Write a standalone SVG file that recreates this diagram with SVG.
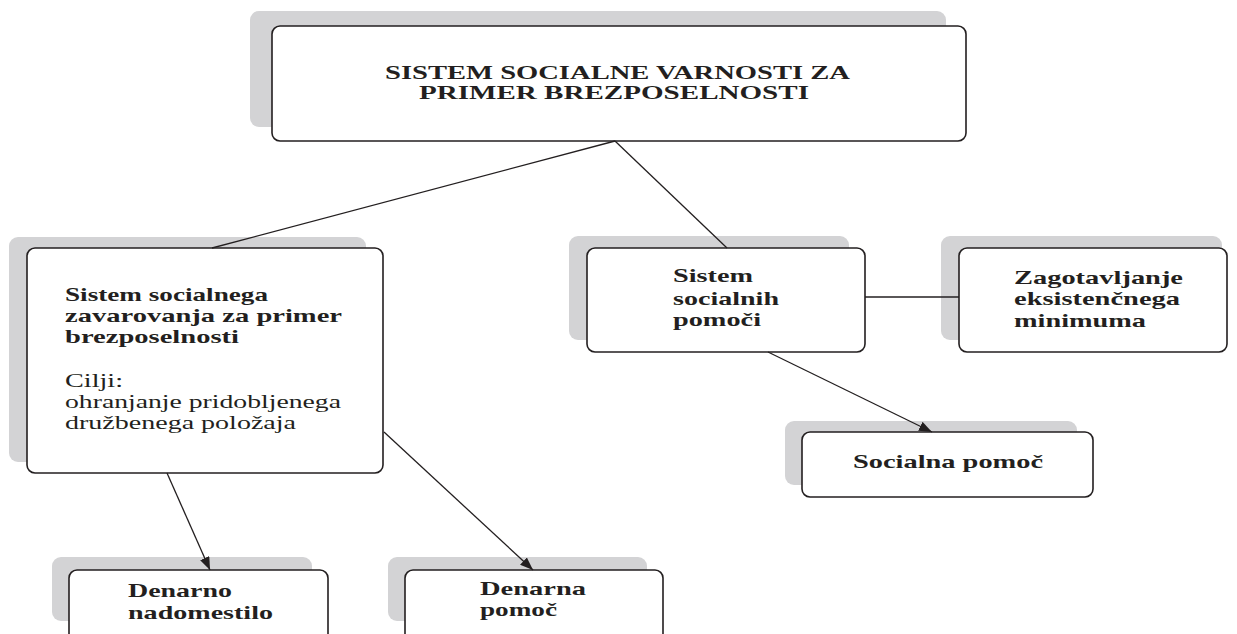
<svg xmlns="http://www.w3.org/2000/svg" width="1237" height="634" viewBox="0 0 1237 634">
<style>
.sh{fill:#d3d3d5;stroke:none}
.bx{fill:#fff;stroke:#231f20;stroke-width:1.6}
.b{font-family:"Liberation Serif","Times New Roman",serif;font-weight:bold;font-size:19px;fill:#231f20}
.r{font-family:"Liberation Serif","Times New Roman",serif;font-size:19px;fill:#231f20}
.ln{stroke:#231f20;stroke-width:1.3;fill:none}
</style>
<defs>
<marker id="ar" viewBox="0 0 13 10" refX="13" refY="5" markerWidth="13" markerHeight="10" markerUnits="userSpaceOnUse" orient="auto"><path d="M0,0 L13,5 L0,10 z" fill="#231f20"/></marker>
</defs>
<rect width="1237" height="634" fill="#fff"/>
<g id="n-top">
<rect class="sh" x="250" y="11" width="696" height="116" rx="9"/>
<rect class="bx" x="272" y="26" width="694" height="115" rx="8"/>
<text class="b" x="385" y="79" textLength="465" lengthAdjust="spacingAndGlyphs">SISTEM SOCIALNE VARNOSTI ZA</text>
<text class="b" x="419" y="99" textLength="390" lengthAdjust="spacingAndGlyphs">PRIMER BREZPOSELNOSTI</text>
</g>
<g id="n-zav">
<rect class="sh" x="9" y="237" width="357" height="225" rx="9"/>
<rect class="bx" x="27" y="248" width="356" height="225" rx="8"/>
<text class="b" x="65" y="301" textLength="203" lengthAdjust="spacingAndGlyphs">Sistem socialnega</text>
<text class="b" x="65" y="322" textLength="277" lengthAdjust="spacingAndGlyphs">zavarovanja za primer</text>
<text class="b" x="65" y="343" textLength="174" lengthAdjust="spacingAndGlyphs">brezposelnosti</text>
<text class="r" x="65" y="387" textLength="58" lengthAdjust="spacingAndGlyphs">Cilji:</text>
<text class="r" x="65" y="408" textLength="276" lengthAdjust="spacingAndGlyphs">ohranjanje pridobljenega</text>
<text class="r" x="65" y="429" textLength="231" lengthAdjust="spacingAndGlyphs">družbenega položaja</text>
</g>
<g id="n-pom">
<rect class="sh" x="569" y="236" width="280" height="104" rx="9"/>
<rect class="bx" x="587" y="248" width="278" height="104" rx="8"/>
<text class="b" x="673" y="282" textLength="80" lengthAdjust="spacingAndGlyphs">Sistem</text>
<text class="b" x="673" y="305" textLength="106" lengthAdjust="spacingAndGlyphs">socialnih</text>
<text class="b" x="673" y="326" textLength="88" lengthAdjust="spacingAndGlyphs">pomoči</text>
</g>
<g id="n-zag">
<rect class="sh" x="941" y="236" width="281" height="104" rx="9"/>
<rect class="bx" x="959" y="248" width="268" height="104" rx="8"/>
<text class="b" x="1014" y="284" textLength="169" lengthAdjust="spacingAndGlyphs">Zagotavljanje</text>
<text class="b" x="1014" y="305" textLength="166" lengthAdjust="spacingAndGlyphs">eksistenčnega</text>
<text class="b" x="1014" y="327" textLength="132" lengthAdjust="spacingAndGlyphs">minimuma</text>
</g>
<g id="n-soc">
<rect class="sh" x="785" y="421" width="292" height="64" rx="9"/>
<rect class="bx" x="802" y="432" width="291" height="65" rx="8"/>
<text class="b" x="853" y="468" textLength="190" lengthAdjust="spacingAndGlyphs">Socialna pomoč</text>
</g>
<g id="n-nad">
<rect class="sh" x="52" y="557" width="260" height="64" rx="9"/>
<rect class="bx" x="69" y="570" width="259" height="72" rx="8"/>
<text class="b" x="128" y="597" textLength="104" lengthAdjust="spacingAndGlyphs">Denarno</text>
<text class="b" x="128" y="619" textLength="145" lengthAdjust="spacingAndGlyphs">nadomestilo</text>
</g>
<g id="n-den">
<rect class="sh" x="388" y="557" width="259" height="64" rx="9"/>
<rect class="bx" x="405" y="570" width="258" height="72" rx="8"/>
<text class="b" x="480" y="595" textLength="106" lengthAdjust="spacingAndGlyphs">Denarna</text>
<text class="b" x="480" y="616" textLength="77" lengthAdjust="spacingAndGlyphs">pomoč</text>
</g>
<g id="connectors">
<line class="ln" x1="615" y1="141" x2="212" y2="248"/>
<line class="ln" x1="615" y1="141" x2="727" y2="248"/>
<line class="ln" x1="865" y1="297" x2="959" y2="297"/>
<line class="ln" x1="768" y1="352" x2="932" y2="432" marker-end="url(#ar)"/>
<line class="ln" x1="167" y1="473" x2="210" y2="570" marker-end="url(#ar)"/>
<line class="ln" x1="384" y1="432" x2="533" y2="570" marker-end="url(#ar)"/>
</g>
</svg>
